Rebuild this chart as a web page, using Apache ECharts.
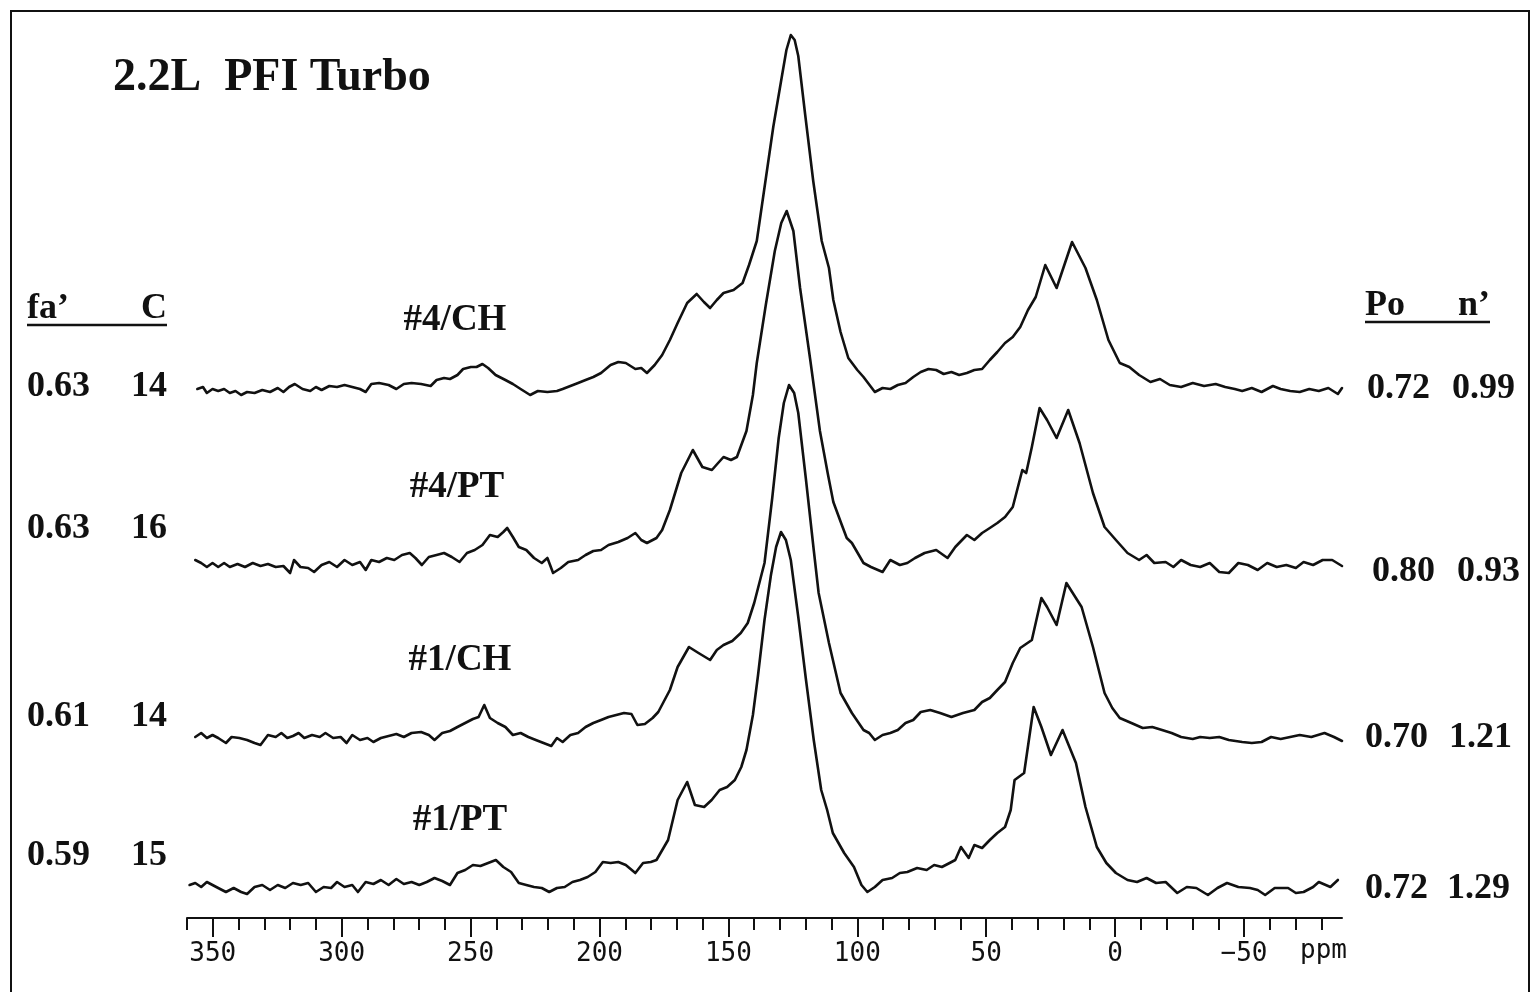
<!DOCTYPE html>
<html>
<head>
<meta charset="utf-8">
<script src="https://cdn.jsdelivr.net/npm/echarts@6/dist/echarts.min.js"></script>
<style>
html,body{margin:0;padding:0;background:#fff;}
#chart{width:1535px;height:992px;}
</style>
</head>
<body>
<div id="chart"></div>
<script>
// Chemical shift axis (ppm)
const majorTicks = [350, 300, 250, 200, 150, 100, 50, 0, -50];
const minorTicks = [360, 340, 330, 320, 310, 290, 280, 270, 260, 240, 230, 220, 210, 190, 180, 170, 160, 140, 130, 120, 110, 90, 80, 70, 60, 40, 30, 20, 10, -10, -20, -30, -40, -60, -70, -80];

// Sample names and side annotations
const sampleNames = ['#4/CH', '#4/PT', '#1/CH', '#1/PT'];
const faValues = ['0.63', '0.63', '0.61', '0.59'];
const cValues = ['14', '16', '14', '15'];
const poValues = ['0.72', '0.80', '0.70', '0.72'];
const nValues = ['0.99', '0.93', '1.21', '1.29'];

// Vertical stacking offsets of each spectrum (arbitrary intensity units)
const offsets = [528, 355, 180, 33];

// Spectra: [ppm, intensity above own baseline]
const spec4CH = [[356,1],[353.8,3],[352.3,-3],[350.1,1],[347.9,-1],[345.6,1],[343.4,-3],[341.2,-1],[339,-5],[336.7,-2],[333.8,-3],[330.8,0],[327.8,-2],[324.8,2],[322.6,-2],[320.4,3],[318.2,6],[315.2,1],[312.2,-1],[310,3],[307.8,0],[304.8,4],[301.8,3],[298.9,5],[295.9,3],[292.9,1],[290.7,-2],[288.5,6],[285.5,7],[281.8,5],[278.8,1],[275.9,6],[272.9,7],[269.2,6],[265.5,4],[263.2,10],[260.3,12],[258,11],[255.1,15],[252.9,21],[249.9,23],[247.7,23],[245.4,26],[243.2,22],[240.3,15],[236.5,10],[233.6,6],[230.6,1],[226.9,-5],[223.9,-1],[220.2,-2],[216.5,-1],[214.3,1],[211.3,4],[208.3,7],[205.4,10],[202.4,13],[199.4,17],[195.7,25],[192.7,28],[189.8,27],[186.1,21],[183.8,22],[181.6,17],[178.6,25],[175.7,35],[172.7,50],[169.7,67],[166,87],[162.3,96],[159.5,88],[157.1,82],[154.5,90],[151.9,97],[148,100],[144.5,107],[142,125],[139,149],[135.8,206],[132.6,263],[129.3,313],[127.5,340],[125.8,355],[124.3,350],[122.9,334],[120.3,277],[117.1,209],[113.8,149],[111,122],[109.3,90],[106.5,58],[103.5,32],[100,20],[97.6,13],[93.2,-2],[90.2,2],[87.2,1],[84.3,5],[81.3,7],[78.3,13],[75.4,18],[72.4,21],[69.4,20],[66.5,16],[63.5,18],[60.5,15],[57.5,17],[54.6,20],[51.6,21],[48.6,30],[45.7,38],[42.7,47],[39.7,53],[36.8,63],[33.8,80],[30.8,93],[27.1,125],[22.7,102],[16.7,148],[11.5,122],[7.1,90],[2.6,50],[-1.8,27],[-5.5,23],[-9.3,15],[-13.7,8],[-17.4,11],[-21.2,5],[-25.6,3],[-30.1,7],[-34.5,4],[-39,6],[-42.7,3],[-46.4,1],[-49.3,-1],[-53,2],[-56.8,-2],[-61.2,4],[-64.2,1],[-67.9,-1],[-71.6,-2],[-75.3,1],[-79,-1],[-82.7,2],[-86.4,-4],[-88,2]];

const spec4PT = [[356.8,3],[354.5,0],[352.3,-4],[350.1,0],[347.9,-4],[345.6,0],[343.4,-4],[340.4,-1],[337.5,-4],[334.5,0],[331.5,-3],[328.6,-1],[325.6,-4],[322.6,-3],[320,-10],[318.5,3],[316,-4],[313,-5],[310.7,-9],[307.8,-2],[304.8,1],[301.8,-4],[298.9,3],[295.9,-2],[292.9,1],[290.7,-7],[288.5,3],[285.5,1],[282.5,5],[279.6,3],[276.6,8],[273.6,10],[271.4,5],[268.9,-2],[266.2,6],[263.2,8],[260.3,10],[257.3,6],[254.3,1],[251.4,10],[248.4,13],[245.4,18],[242.5,28],[239.5,26],[237.3,31],[235.8,35],[233.6,26],[231.3,16],[228.4,13],[225.4,5],[222.4,0],[220.2,5],[218,-10],[215,-5],[212.1,1],[208.3,3],[205.4,8],[202.4,12],[199.4,13],[196.5,18],[192.7,21],[189.1,25],[186.1,30],[183.8,23],[181.6,20],[177.9,25],[175.7,33],[172.7,53],[168.3,90],[163.8,113],[160.1,96],[156.4,93],[154,100],[151.9,106],[149,103],[146.7,106],[143,132],[140.5,168],[139,200],[135.5,258],[132,312],[129.5,340],[127.4,352],[124.8,332],[122.2,275],[118.3,204],[114.5,132],[111.5,90],[109.3,61],[106,38],[104.1,25],[102.1,20],[97.6,0],[94.7,-4],[90.2,-9],[87.2,3],[83.5,-2],[80.6,0],[77.6,5],[73.9,10],[69.4,13],[65,5],[62,16],[57.5,28],[54.6,23],[51.6,30],[48.6,35],[45.7,40],[42.7,46],[39.7,56],[36,93],[34.5,90],[32.3,116],[29.3,155],[26.4,143],[22.7,125],[18.2,153],[13.8,120],[8.6,70],[4.1,36],[-0.3,23],[-4.8,10],[-9.3,3],[-12.2,8],[-15.2,0],[-19.6,1],[-22.6,-4],[-25.6,3],[-29.3,-2],[-33,-4],[-36.7,0],[-40.4,-9],[-44.1,-10],[-47.8,0],[-51.5,-2],[-55.3,-7],[-59,0],[-62.7,-4],[-66.4,-2],[-70.1,-5],[-73.1,1],[-76.8,-2],[-80.5,3],[-84.2,3],[-88,-3]];

const spec1CH = [[356.8,1],[354.5,5],[352.3,0],[350.1,3],[347.9,0],[344.9,-5],[342.7,1],[339.7,0],[336.7,-2],[333.8,-5],[331.5,-7],[328.6,3],[325.6,1],[323.4,5],[321.1,0],[318.9,2],[316.7,5],[314.5,0],[311.5,3],[308.5,1],[306.3,5],[303.3,0],[300.4,1],[298.1,-5],[295.9,3],[292.9,-2],[290,0],[287.7,-4],[284.8,0],[281.8,2],[278.8,4],[275.9,1],[272.9,5],[269.2,6],[266.2,3],[264,-2],[261,5],[258,7],[255.1,11],[252.1,15],[249.1,19],[246.9,21],[244.7,33],[242.5,20],[239.5,15],[236.5,11],[233.6,3],[230.6,5],[227.6,1],[224.7,-2],[221.7,-5],[218.7,-8],[216.5,0],[214.3,-4],[211.3,3],[208.3,5],[205.4,11],[202.4,15],[199.4,18],[196.5,21],[193.5,23],[190.5,25],[187.6,24],[185.3,13],[182.4,14],[179.4,20],[177.2,26],[172.7,48],[169.7,71],[165.3,91],[161.6,85],[157.1,78],[154.5,88],[151.9,93],[148.5,97],[145.2,105],[142.5,115],[140,135],[136,175],[133,240],[130.5,300],[128.5,335],[126.5,353],[124.5,345],[122.9,325],[119.9,258],[116.9,188],[115,145],[111,95],[106.5,45],[102.1,25],[97.6,8],[95.4,5],[93.2,-2],[90.2,3],[87.2,5],[84.3,8],[81.3,15],[78.3,18],[75.4,26],[71.7,28],[67.9,25],[63.5,21],[59,25],[54.6,28],[51.6,36],[48.6,40],[45.7,48],[42.7,56],[39.7,75],[36.8,90],[32.3,98],[28.6,140],[26.4,131],[22.7,113],[18.9,155],[13,131],[8.6,91],[4.1,45],[1.1,30],[-1.8,20],[-6.3,15],[-10.7,10],[-14.4,11],[-18.2,8],[-21.9,5],[-25.6,1],[-30.1,-1],[-33,1],[-36.7,0],[-40.4,1],[-44.1,-2],[-49.3,-4],[-53,-5],[-56.8,-4],[-60.5,1],[-64.2,-1],[-67.9,1],[-71.6,3],[-76.1,1],[-81.2,5],[-84.9,1],[-88,-3]];

const spec1PT = [[359,0],[356.8,2],[354.5,-2],[352.3,3],[350.1,0],[347.9,-3],[344.9,-7],[341.9,-3],[339,-7],[336.7,-9],[333.8,-2],[330.8,0],[327.8,-5],[324.8,0],[321.9,-3],[318.9,2],[315.9,0],[313,2],[310,-7],[307,-2],[304.1,-3],[301.8,3],[298.9,-2],[295.9,0],[293.7,-7],[290.7,3],[287.7,1],[284.8,5],[281.8,0],[278.8,6],[275.9,1],[272.9,3],[269.9,0],[267,3],[264,7],[261,4],[258,0],[255.1,12],[252.1,15],[249.1,20],[246.2,19],[243.2,22],[240.2,25],[237.3,18],[234.3,13],[231.3,2],[228.4,0],[225.4,-2],[222.4,-3],[219.5,-7],[216.5,-3],[213.5,-2],[210.5,3],[207.6,5],[204.6,8],[201.6,13],[198.7,23],[195.7,22],[192.7,23],[189.8,20],[186.1,12],[183.1,22],[180.1,23],[177.9,25],[173.4,45],[169.7,85],[166,103],[163,80],[159.4,78],[156.5,85],[153.4,95],[150.5,98],[147.5,105],[145,118],[143,135],[140.5,170],[138.5,210],[136,265],[133.5,310],[131.5,338],[129.6,353],[127.7,345],[125.8,325],[122.9,268],[119.9,205],[116.9,145],[114,95],[111.7,75],[109.5,52],[105.1,32],[101.3,18],[98.4,0],[96.1,-7],[93.2,-2],[90.2,5],[86.5,7],[83.5,12],[80.6,13],[76.8,17],[73.1,15],[70.2,20],[67.2,18],[64.2,22],[62,25],[59.8,38],[56.8,27],[54.6,40],[51.6,37],[48.6,45],[45.7,52],[42.7,58],[40.5,75],[39,105],[35.3,112],[31.6,178],[28.6,158],[24.9,130],[20.4,155],[15.2,122],[11.5,78],[7.1,38],[3.4,22],[-0.3,12],[-4.8,5],[-8.5,3],[-12.2,7],[-15.9,2],[-19.6,3],[-24.1,-8],[-27.8,-2],[-31.5,-3],[-36,-10],[-39.7,-3],[-43.4,2],[-47.8,-2],[-52.3,-3],[-55.3,-5],[-58.2,-10],[-61.9,-3],[-67.1,-3],[-70.1,-8],[-73.1,-7],[-76.8,-2],[-79,3],[-83.5,-2],[-86.4,5]];

const spectra = [spec4CH, spec4PT, spec1CH, spec1PT];

const chart = echarts.init(document.getElementById('chart'), null, {renderer: 'canvas'});

const serif = '"Liberation Serif", "Times New Roman", serif';
const ink = '#111';

const series = spectra.map(function (s, i) {
  return {
    type: 'line',
    name: sampleNames[i],
    showSymbol: false,
    symbol: 'none',
    smooth: false,
    lineStyle: {color: ink, width: 2.6, join: 'round', cap: 'round'},
    data: s.map(function (p) { return [p[0], offsets[i] + p[1]]; }),
    silent: true
  };
});

// text annotation positions
const labelRowsLeftY = [387, 529, 717, 856];
const labelRowsRightY = [389, 572, 738, 889];
const rightLeftX = [1367, 1372, 1365, 1365];
const rightRightX = [1515, 1520, 1512, 1510];
const nameCenters = [[455, 320], [457, 487], [460, 660], [460, 820]];

const graphics = [];
graphics.push({type: 'polyline', shape: {points: [[11, 992], [11, 11], [1529, 11], [1529, 992]]}, style: {stroke: ink, lineWidth: 2, fill: null}, silent: true});
graphics.push({type: 'text', x: 113, y: 78, style: {text: '2.2L  PFI Turbo', font: 'bold 46px ' + serif, fill: ink, textAlign: 'left', textVerticalAlign: 'middle'}});
graphics.push({type: 'text', x: 27, y: 309, style: {text: 'fa\u2019', font: 'bold 36px ' + serif, fill: ink, textAlign: 'left', textVerticalAlign: 'middle'}});
graphics.push({type: 'text', x: 167, y: 309, style: {text: 'C', font: 'bold 36px ' + serif, fill: ink, textAlign: 'right', textVerticalAlign: 'middle'}});
graphics.push({type: 'line', shape: {x1: 27, y1: 325, x2: 167, y2: 325}, style: {stroke: ink, lineWidth: 2.5}});
graphics.push({type: 'text', x: 1365, y: 306, style: {text: 'Po', font: 'bold 36px ' + serif, fill: ink, textAlign: 'left', textVerticalAlign: 'middle'}});
graphics.push({type: 'text', x: 1490, y: 306, style: {text: 'n\u2019', font: 'bold 36px ' + serif, fill: ink, textAlign: 'right', textVerticalAlign: 'middle'}});
graphics.push({type: 'line', shape: {x1: 1365, y1: 322, x2: 1490, y2: 322}, style: {stroke: ink, lineWidth: 2.5}});

for (let i = 0; i < 4; i++) {
  graphics.push({type: 'text', x: 27, y: labelRowsLeftY[i], style: {text: faValues[i], font: 'bold 36px ' + serif, fill: ink, textAlign: 'left', textVerticalAlign: 'middle'}});
  graphics.push({type: 'text', x: 167, y: labelRowsLeftY[i], style: {text: cValues[i], font: 'bold 36px ' + serif, fill: ink, textAlign: 'right', textVerticalAlign: 'middle'}});
  graphics.push({type: 'text', x: rightLeftX[i], y: labelRowsRightY[i], style: {text: poValues[i], font: 'bold 36px ' + serif, fill: ink, textAlign: 'left', textVerticalAlign: 'middle'}});
  graphics.push({type: 'text', x: rightRightX[i], y: labelRowsRightY[i], style: {text: nValues[i], font: 'bold 36px ' + serif, fill: ink, textAlign: 'right', textVerticalAlign: 'middle'}});
  graphics.push({type: 'text', x: nameCenters[i][0], y: nameCenters[i][1], style: {text: sampleNames[i], font: 'bold 37px ' + serif, fill: ink, textAlign: 'center', textVerticalAlign: 'middle'}});
}
graphics.push({type: 'text', x: 1300, y: 951, style: {text: 'ppm', font: '26px "DejaVu Sans Mono", monospace', fill: ink, textAlign: 'left', textVerticalAlign: 'middle'}});

const xCommon = {
  type: 'value', min: -88, max: 360, inverse: true, position: 'bottom',
  splitLine: {show: false}
};

chart.setOption({
  animation: false,
  backgroundColor: '#fff',
  grid: {left: 187, right: 193, top: 18, bottom: 74, containLabel: false},
  xAxis: [
    Object.assign({}, xCommon, {
      axisLine: {show: true, lineStyle: {color: ink, width: 2}},
      axisTick: {show: true, inside: false, length: 19, lineStyle: {color: ink, width: 2}, customValues: majorTicks},
      axisLabel: {show: true, customValues: majorTicks, margin: 23, color: ink, fontSize: 26, fontFamily: '"DejaVu Sans Mono", monospace',
        formatter: function (v) { return v < 0 ? '\u2212' + (-v) : String(v); }}
    }),
    Object.assign({}, xCommon, {
      axisLine: {show: false},
      axisTick: {show: true, inside: false, length: 12, lineStyle: {color: ink, width: 2}, customValues: minorTicks},
      axisLabel: {show: false}
    })
  ],
  yAxis: {type: 'value', min: 0, max: 900, show: false, splitLine: {show: false}},
  series: series,
  graphic: graphics
});
</script>
</body>
</html>
